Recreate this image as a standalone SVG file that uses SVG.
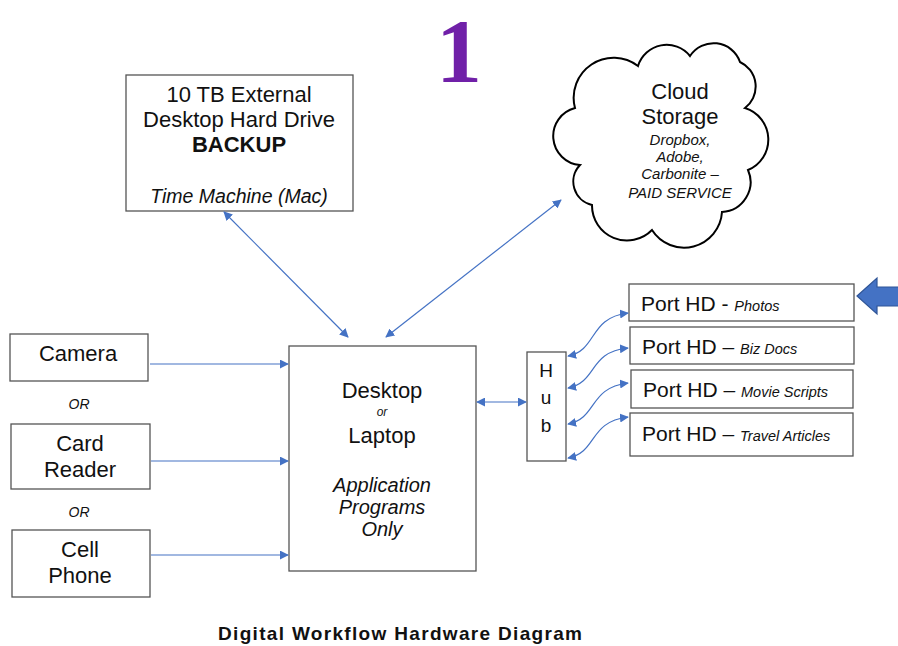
<svg xmlns="http://www.w3.org/2000/svg" width="898" height="646" viewBox="0 0 898 646">
<defs>
<marker id="ah" viewBox="0 0 10 10" refX="9" refY="5" markerWidth="9" markerHeight="9" markerUnits="userSpaceOnUse" orient="auto-start-reverse">
<path d="M0,0 L10,5 L0,10 Z" fill="#4472C4"/>
</marker>
<style>
.box{fill:#fff;stroke:#555;stroke-width:1.3}
.t{font-family:"Liberation Sans",Arial,sans-serif;fill:#111;text-anchor:middle}
.l{font-size:22px}
.s{font-size:15px;font-style:italic}
.c{fill:none;stroke:#4472C4;stroke-width:1.2;marker-end:url(#ah)}
.cc{fill:none;stroke:#4472C4;stroke-width:1.2;marker-end:url(#ah);marker-start:url(#ah)}
</style>
</defs>
<rect width="898" height="646" fill="#fff"/>
<text x="459" y="82" font-family="Liberation Serif,'Times New Roman',serif" font-size="92" font-weight="bold" fill="#7020A8" text-anchor="middle">1</text>

<g id="backup">
<rect class="box" x="126" y="75" width="227" height="136"/>
<text class="t l" x="239" y="102">10 TB External</text>
<text class="t l" x="239" y="127">Desktop Hard Drive</text>
<text class="t l" x="239" y="152" font-weight="bold">BACKUP</text>
<text class="t" x="239" y="203" font-size="19.5" font-style="italic">Time Machine (Mac)</text>
</g>

<g id="cloud">
<path d="M580,165 A29 29 0 0 1 575,108 A40 40 0 0 1 638,66 A30 30 0 0 1 690,56 A28 28 0 0 1 740,62 A27 27 0 0 1 745,108 A33 33 0 0 1 748,170 A30 30 0 0 1 722,212 A38 38 0 0 1 652,230 A35 35 0 0 1 592,205 A24 24 0 0 1 580,165 Z" fill="#fff" stroke="#000" stroke-width="2"/>
<text class="t l" x="680" y="99">Cloud</text>
<text class="t l" x="680" y="124">Storage</text>
<text class="t s" x="680" y="145">Dropbox,</text>
<text class="t s" x="680" y="162">Adobe,</text>
<text class="t s" x="680" y="179">Carbonite –</text>
<text class="t s" x="680" y="198">PAID SERVICE</text>
</g>

<g id="camera">
<rect class="box" x="10" y="334" width="138" height="47"/>
<text class="t l" x="78" y="361">Camera</text>
</g>
<text class="t" x="79" y="409" font-size="14" font-style="italic">OR</text>
<g id="cardreader">
<rect class="box" x="11" y="424" width="139" height="65"/>
<text class="t l" x="80" y="451">Card</text>
<text class="t l" x="80" y="477">Reader</text>
</g>
<text class="t" x="79" y="517" font-size="14" font-style="italic">OR</text>
<g id="cellphone">
<rect class="box" x="12" y="530" width="138" height="67"/>
<text class="t l" x="80" y="557">Cell</text>
<text class="t l" x="80" y="583">Phone</text>
</g>

<g id="computer">
<rect class="box" x="289" y="346" width="187" height="225"/>
<text class="t l" x="382" y="398">Desktop</text>
<text class="t" x="382" y="416" font-size="12" font-style="italic">or</text>
<text class="t l" x="382" y="443">Laptop</text>
<text class="t" x="382" y="492" font-size="20" font-style="italic">Application</text>
<text class="t" x="382" y="514" font-size="20" font-style="italic">Programs</text>
<text class="t" x="382" y="536" font-size="20" font-style="italic">Only</text>
</g>

<g id="hub">
<rect class="box" x="527" y="352" width="39" height="109"/>
<text class="t" x="546" y="377" font-size="19">H</text>
<text class="t" x="546" y="404" font-size="19">u</text>
<text class="t" x="546" y="432" font-size="19">b</text>
</g>

<g id="port1">
<rect class="box" x="629" y="284" width="225" height="37"/>
<text x="641" y="311" font-family="Liberation Sans,Arial,sans-serif" fill="#111"><tspan font-size="21">Port HD - </tspan><tspan font-size="14.5" font-style="italic">Photos</tspan></text>
</g>
<g id="port2">
<rect class="box" x="630" y="327" width="224" height="37"/>
<text x="642" y="354" font-family="Liberation Sans,Arial,sans-serif" fill="#111"><tspan font-size="21">Port HD – </tspan><tspan font-size="14.5" font-style="italic">Biz Docs</tspan></text>
</g>
<g id="port3">
<rect class="box" x="631" y="370" width="222" height="38"/>
<text x="643" y="397" font-family="Liberation Sans,Arial,sans-serif" fill="#111"><tspan font-size="21">Port HD – </tspan><tspan font-size="14.5" font-style="italic">Movie Scripts</tspan></text>
</g>
<g id="port4">
<rect class="box" x="630" y="413" width="223" height="43"/>
<text x="642" y="441" font-family="Liberation Sans,Arial,sans-serif" fill="#111"><tspan font-size="21">Port HD – </tspan><tspan font-size="14.5" font-style="italic">Travel Articles</tspan></text>
</g>

<g id="pointer">
<path d="M857,296 L877,278 L877,287 L900,287 L900,306 L877,306 L877,314 Z" fill="#4472C4" stroke="#2F5597" stroke-width="1.2"/>
</g>

<g id="connectors">
<line class="c" x1="150" y1="364" x2="288" y2="364"/>
<line class="c" x1="151" y1="461" x2="288" y2="461"/>
<line class="c" x1="151" y1="555" x2="288" y2="555"/>
<line class="cc" x1="224" y1="212" x2="348" y2="337"/>
<line class="cc" x1="561" y1="200" x2="386" y2="337"/>
<line class="cc" x1="477" y1="402" x2="526" y2="402"/>
<path class="cc" d="M568,356 C598,350 588,318 628,313"/>
<path class="cc" d="M568,388 C598,382 588,352 628,348"/>
<path class="cc" d="M568,424 C598,418 588,388 628,383"/>
<path class="cc" d="M568,458 C598,452 588,422 628,417"/>
</g>

<text class="t" x="400" y="640" font-size="19" font-weight="bold" textLength="364" lengthAdjust="spacing">Digital Workflow Hardware Diagram</text>
</svg>
